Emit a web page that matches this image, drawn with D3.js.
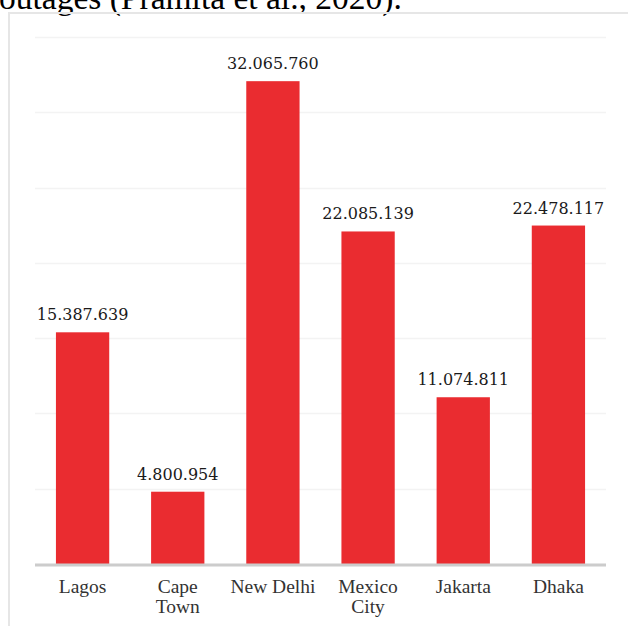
<!DOCTYPE html>
<html>
<head>
<meta charset="utf-8">
<style>
  body { margin: 0; background: #fff; }
  svg { display: block; }
  .val { font-family: "DejaVu Serif", serif; font-size: 16px; fill: #1a1a1a; }
  .cat { font-family: "Liberation Serif", "Times New Roman", serif; font-size: 19.5px; fill: #333; }
  .caption { font-family: "Liberation Serif", "Times New Roman", serif; font-size: 33.5px; fill: #000; }
</style>
</head>
<body>
<svg id="chart" width="628" height="626"></svg>
<script src="https://d3js.org/d3.v7.min.js"></script>
<script>
  // city populations
  var cities = ["Lagos", "Cape Town", "New Delhi", "Mexico City", "Jakarta", "Dhaka"];
  var cityLines = [["Lagos"], ["Cape", "Town"], ["New Delhi"], ["Mexico", "City"], ["Jakarta"], ["Dhaka"]];
  var population = [15387639, 4800954, 32065760, 22085139, 11074811, 22478117];
  var gridTicks = [0, 5e6, 10e6, 15e6, 20e6, 25e6, 30e6, 35e6];

  var svg = d3.select("#chart");

  // caption cut off above the figure
  svg.append("text")
    .attr("class", "caption")
    .attr("x", -1)
    .attr("y", 9)
    .text("outages (Pramita et al., 2020).");

  // figure frame (left and top edge)
  svg.append("path")
    .attr("d", "M9,626 V13 H628")
    .attr("fill", "none")
    .attr("stroke", "#e6e6e6")
    .attr("stroke-width", 2);

  var x = d3.scaleBand()
    .domain(cities)
    .range([35, 606])
    .paddingInner(0.44)
    .paddingOuter(0.22);

  var y = d3.scaleLinear()
    .domain([0, 35e6])
    .range([564, 37]);

  // gridlines
  svg.append("g")
    .selectAll("line")
    .data(gridTicks.slice(1))
    .enter().append("line")
    .attr("x1", 35)
    .attr("x2", 606)
    .attr("y1", function(d){ return Math.round(y(d)) + 0.5; })
    .attr("y2", function(d){ return Math.round(y(d)) + 0.5; })
    .attr("stroke", "#f3f3f3")
    .attr("stroke-width", 1.5);

  // bars
  svg.append("g")
    .selectAll("rect")
    .data(population)
    .enter().append("rect")
    .attr("x", function(d, i){ return x(cities[i]); })
    .attr("width", x.bandwidth())
    .attr("y", function(d){ return y(d); })
    .attr("height", function(d){ return y(0) - y(d); })
    .attr("fill", "#ea2c30");

  // baseline
  svg.append("line")
    .attr("x1", 35)
    .attr("x2", 606)
    .attr("y1", y(0) + 1)
    .attr("y2", y(0) + 1)
    .attr("stroke", "#cccccc")
    .attr("stroke-width", 3);

  var fmt = d3.formatLocale({ decimal: ",", thousands: ".", grouping: [3], currency: ["", ""] }).format(",d");

  // value labels
  svg.append("g")
    .selectAll("text")
    .data(population)
    .enter().append("text")
    .attr("class", "val")
    .attr("text-anchor", "middle")
    .attr("x", function(d, i){ return x(cities[i]) + x.bandwidth() / 2; })
    .attr("y", function(d){ return y(d) - 12; })
    .text(function(d){ return fmt(d); });

  // category labels
  var cat = svg.append("g")
    .selectAll("text")
    .data(cities)
    .enter().append("text")
    .attr("class", "cat")
    .attr("text-anchor", "middle")
    .attr("x", function(d){ return x(d) + x.bandwidth() / 2; })
    .attr("y", 593);

  cat.selectAll("tspan")
    .data(function(d, i){ return cityLines[i]; })
    .enter().append("tspan")
    .attr("x", function(){ return d3.select(this.parentNode).attr("x"); })
    .attr("dy", function(d, i){ return i === 0 ? 0 : 20; })
    .text(function(d){ return d; });
</script>
</body>
</html>
